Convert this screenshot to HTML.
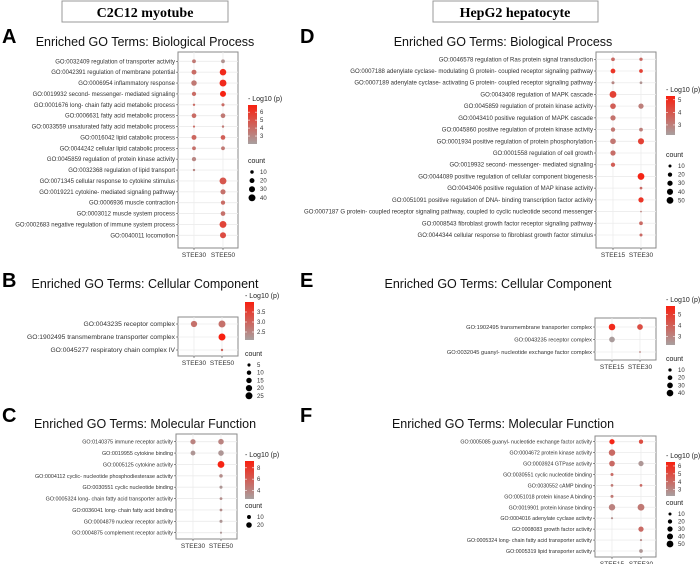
<!DOCTYPE html>
<html><head><meta charset="utf-8">
<style>
body{margin:0;background:#fff;}
svg{display:block;font-family:"Liberation Sans",Arial,sans-serif;}
</style></head>
<body>
<svg id="fig" width="700" height="564" viewBox="0 0 700 564" xmlns="http://www.w3.org/2000/svg">
<defs>
<linearGradient id="cbar" x1="0" y1="1" x2="0" y2="0">
<stop offset="0" stop-color="#a8a0a0"/><stop offset="1" stop-color="#f82010"/>
</linearGradient>
</defs>
<g>
<rect x="62" y="1" width="166" height="21" fill="#fff" stroke="#999" stroke-width="1"/>
<text x="145" y="17" text-anchor="middle" font-family="Liberation Serif,serif" font-weight="bold" font-size="14">C2C12 myotube</text>
</g>
<g>
<rect x="433" y="1" width="165" height="21" fill="#fff" stroke="#999" stroke-width="1"/>
<text x="515" y="17" text-anchor="middle" font-family="Liberation Serif,serif" font-weight="bold" font-size="14">HepG2 hepatocyte</text>
</g>
</svg>
<script>
// Panel A data
const aTerms=["GO:0032409 regulation of transporter activity","GO:0042391 regulation of membrane potential","GO:0006954 inflammatory response","GO:0019932 second- messenger- mediated signaling","GO:0001676 long- chain fatty acid metabolic process","GO:0006631 fatty acid metabolic process","GO:0033559 unsaturated fatty acid metabolic process","GO:0016042 lipid catabolic process","GO:0044242 cellular lipid catabolic process","GO:0045859 regulation of protein kinase activity","GO:0032368 regulation of lipid transport","GO:0071345 cellular response to cytokine stimulus","GO:0019221 cytokine- mediated signaling pathway","GO:0006936 muscle contraction","GO:0003012 muscle system process","GO:0002683 negative regulation of immune system process","GO:0040011 locomotion"];
const aGroups=["STEE30","STEE50"];
const aP1=[3.5,4,3.5,4,4,4,4,4.2,3.8,3,3,null,null,null,null,null,null];
const aC1=[12,20,25,15,5,18,4,20,12,15,5,null,null,null,null,null,null];
const aP2=[2.5,6.5,6.5,6.8,4,3.5,3.5,4.5,3.5,null,null,4.8,3.8,4,3.8,5.5,5.2];
const aC2=[12,35,40,30,8,18,5,18,12,null,null,40,22,15,18,40,30];
const aColorTicks=[3,4,5,6];const aCountTicks=[10,20,30,40];
// Panel B data
const bTerms=["GO:0043235 receptor complex","GO:1902495 transmembrane transporter complex","GO:0045277 respiratory chain complex IV"];
const bGroups=["STEE30","STEE50"];
const bP1=[2.8,null,null];const bC1=[20,null,null];
const bP2=[2.8,4,3];const bC2=[25,25,3];
const bColorTicks=[2.5,3.0,3.5];const bCountTicks=[5,10,15,20,25];
// Panel C data
const cTerms=["GO:0140375 immune receptor activity","GO:0019955 cytokine binding","GO:0005125 cytokine activity","GO:0004112 cyclic- nucleotide phosphodiesterase activity","GO:0030551 cyclic nucleotide binding","GO:0005324 long- chain fatty acid transporter activity","GO:0036041 long- chain fatty acid binding","GO:0004879 nuclear receptor activity","GO:0004875 complement receptor activity"];
const cGroups=["STEE30","STEE50"];
const cP1=[4,3,null,null,null,null,null,null,null];const cC1=[18,15,null,null,null,null,null,null,null];
const cP2=[4,3,9,3.5,3,3.5,3.5,3,3];const cC2=[20,20,30,8,6,5,5,6,3];
const cColorTicks=[4,6,8];const cCountTicks=[10,20];
// Panel D data
const dTerms=["GO:0046578 regulation of Ras protein signal transduction","GO:0007188 adenylate cyclase- modulating G protein- coupled receptor signaling pathway","GO:0007189 adenylate cyclase- activating G protein- coupled receptor signaling pathway","GO:0043408 regulation of MAPK cascade","GO:0045859 regulation of protein kinase activity","GO:0043410 positive regulation of MAPK cascade","GO:0045860 positive regulation of protein kinase activity","GO:0001934 positive regulation of protein phosphorylation","GO:0001558 regulation of cell growth","GO:0019932 second- messenger- mediated signaling","GO:0044089 positive regulation of cellular component biogenesis","GO:0043406 positive regulation of MAP kinase activity","GO:0051091 positive regulation of DNA- binding transcription factor activity","GO:0007187 G protein- coupled receptor signaling pathway, coupled to cyclic nucleotide second messenger","GO:0008543 fibroblast growth factor receptor signaling pathway","GO:0044344 cellular response to fibroblast growth factor stimulus"];
const dGroups=["STEE15","STEE30"];
const dP1=[3.5,4.8,2.8,4.5,3.8,3.3,3.2,3.2,3.4,3.8,null,null,null,null,null,null];
const dC1=[15,25,10,50,35,30,20,35,30,20,null,null,null,null,null,null];
const dP2=[3.5,4.5,2.5,null,3,null,3,4.5,null,null,5.2,3.5,4.8,3,3.5,3.5];
const dC2=[12,15,8,null,30,null,15,40,null,null,50,8,30,3,15,10];
const dColorTicks=[3,4,5];const dCountTicks=[10,20,30,40,50];
// Panel E data
const eTerms=["GO:1902495 transmembrane transporter complex","GO:0043235 receptor complex","GO:0032045 guanyl- nucleotide exchange factor complex"];
const eGroups=["STEE15","STEE30"];
const eP1=[5.5,2.3,null];const eC1=[40,30,null];
const eP2=[4.5,null,3];const eC2=[30,null,3];
const eColorTicks=[3,4,5];const eCountTicks=[10,20,30,40];
// Panel F data
const fTerms=["GO:0005085 guanyl- nucleotide exchange factor activity","GO:0004672 protein kinase activity","GO:0003924 GTPase activity","GO:0030551 cyclic nucleotide binding","GO:0030552 cAMP binding","GO:0051018 protein kinase A binding","GO:0019901 protein kinase binding","GO:0004016 adenylate cyclase activity","GO:0008083 growth factor activity","GO:0005324 long- chain fatty acid transporter activity","GO:0005319 lipid transporter activity"];
const fGroups=["STEE15","STEE30"];
const fP1=[6.3,4,4,4,3.5,3.5,3.2,2.8,null,null,null];const fC1=[30,45,35,10,8,10,45,5,null,null,null];
const fP2=[5,null,2.5,null,4,null,3.5,null,4,3,2.5];const fC2=[20,null,30,null,8,null,50,null,30,5,15];
const fColorTicks=[3,4,5,6];const fCountTicks=[10,20,30,40,50];

const NS="http://www.w3.org/2000/svg";
const svg=document.getElementById('fig');
function mk(tag,attrs,parent,txt){const e=document.createElementNS(NS,tag);for(const k in attrs)e.setAttribute(k,attrs[k]);if(txt!=null)e.textContent=txt;(parent||svg).appendChild(e);return e;}
function lerp(a,b,t){return Math.round(a+(b-a)*t);}
function colorOf(v,lo,hi){let t=(v-lo)/(hi-lo);t=Math.max(0,Math.min(1,t));return `rgb(${lerp(168,248,t)},${lerp(160,32,t)},${lerp(160,16,t)})`;}

function panel(cfg){
  const g=mk('g',{});
  
  
  const L=mk('text',{x:cfg.letterX,y:cfg.letterY,'font-size':20,'font-weight':'bold'},g,cfg.id.toUpperCase());
  
  
  const T=mk('text',{x:cfg.titleX,y:cfg.titleY,'font-size':12.5,'text-anchor':'middle',fill:'#111'},g,cfg.title);
  
  
  const n=cfg.terms.length;
  const yAt=i=>cfg.y0+(cfg.y1-cfg.y0)*(n===1?0:i/(n-1));
  const xAt=j=>cfg.cx[j];
  const box=mk('rect',{x:cfg.bx0,y:cfg.by0,width:cfg.bx1-cfg.bx0,height:cfg.by1-cfg.by0,fill:'#fff',stroke:'#8a8a8a','stroke-width':1},g);
  
  
  for(let i=0;i<n;i++){mk('line',{x1:cfg.bx0,x2:cfg.bx1,y1:yAt(i),y2:yAt(i),stroke:'#ececec','stroke-width':0.8},g);}
  for(let j=0;j<2;j++){mk('line',{x1:xAt(j),x2:xAt(j),y1:cfg.by0,y2:cfg.by1,stroke:'#ececec','stroke-width':0.8},g);}
  for(let i=0;i<n;i++){
    mk('line',{x1:cfg.bx0-2,x2:cfg.bx0,y1:yAt(i),y2:yAt(i),stroke:'#444','stroke-width':0.6},g);
    const t=mk('text',{x:cfg.bx0-3,y:yAt(i)+2,'font-size':cfg.fs,'text-anchor':'end',fill:'#333'},g,cfg.terms[i]);
    
    
  }
  for(let j=0;j<2;j++){
    mk('line',{x1:xAt(j),x2:xAt(j),y1:cfg.by1,y2:cfg.by1+2,stroke:'#444','stroke-width':0.6},g);
    const t=mk('text',{x:xAt(j),y:cfg.by1+9,'font-size':6.5,'text-anchor':'middle',fill:'#333'},g,cfg.groups[j]);
    
    
  }
  const series=[[cfg.p1,cfg.c1],[cfg.p2,cfg.c2]];
  for(let j=0;j<2;j++){
    for(let i=0;i<n;i++){
      const p=series[j][0][i],c=series[j][1][i];
      if(p==null||c==null)continue;
      const d=mk('circle',{cx:xAt(j),cy:yAt(i),r:cfg.k*Math.sqrt(c),fill:colorOf(p,cfg.lo,cfg.hi)},g);
      
      
    }
  }
  const lg=mk('g',{},g);
  
  
  mk('text',{x:cfg.lx,y:cfg.ly,'font-size':7,fill:'#222'},lg,'- Log10 (p)');
  const cb=mk('rect',{x:cfg.lx,y:cfg.ly+4,width:9,height:cfg.cbh,fill:'url(#cbar)'},lg);
  
  
  for(const v of cfg.colorTicks){
    const yy=cfg.ly+4+cfg.cbh*(1-(v-cfg.lo)/(cfg.hi-cfg.lo));
    mk('text',{x:cfg.lx+12,y:yy+2,'font-size':6,fill:'#333'},lg,String(v.toFixed(cfg.dec||0)));
    mk('line',{x1:cfg.lx,x2:cfg.lx+2,y1:yy,y2:yy,stroke:'#fff','stroke-width':0.6},lg);
    mk('line',{x1:cfg.lx+7,x2:cfg.lx+9,y1:yy,y2:yy,stroke:'#fff','stroke-width':0.6},lg);
  }
  mk('text',{x:cfg.lx,y:cfg.cy,'font-size':7,fill:'#222'},lg,'count');
  cfg.countTicks.forEach((v,i)=>{
    const yy=cfg.cy+9+i*cfg.cstep;
    const e=mk('circle',{cx:cfg.lx+4,cy:yy,r:cfg.k*Math.sqrt(v),fill:'#000'},lg);
    
    
    mk('text',{x:cfg.lx+12,y:yy+2,'font-size':6,fill:'#333'},lg,String(v));
  });
}

panel({id:'a',title:'Enriched GO Terms: Biological Process',terms:aTerms,groups:aGroups,p1:aP1,c1:aC1,p2:aP2,c2:aC2,
 colorTicks:aColorTicks,countTicks:aCountTicks,lo:2,hi:6.9,k:0.55,fs:6,
 letterX:2,letterY:43,titleX:145,titleY:46,bx0:178,bx1:238,by0:52,by1:248,y0:61.3,y1:235.3,cx:[194,223],
 lx:248,ly:101,cbh:39,cy:163,cstep:8.6});
panel({id:'b',title:'Enriched GO Terms: Cellular Component',terms:bTerms,groups:bGroups,p1:bP1,c1:bC1,p2:bP2,c2:bC2,
 colorTicks:bColorTicks,countTicks:bCountTicks,lo:2.1,hi:4,k:0.7,fs:6.7,dec:1,
 letterX:2,letterY:287,titleX:145,titleY:288,bx0:178,bx1:238,by0:317,by1:356,y0:324,y1:350,cx:[194,222],
 lx:245,ly:298,cbh:38,cy:356,cstep:7.7});
panel({id:'c',title:'Enriched GO Terms: Molecular Function',terms:cTerms,groups:cGroups,p1:cP1,c1:cC1,p2:cP2,c2:cC2,
 colorTicks:cColorTicks,countTicks:cCountTicks,lo:2.5,hi:9.2,k:0.62,fs:5.4,
 letterX:2,letterY:422,titleX:145,titleY:428,bx0:176,bx1:237,by0:434,by1:539,y0:441.7,y1:532.7,cx:[193,221],
 lx:245,ly:457,cbh:38,cy:508,cstep:8});
panel({id:'d',title:'Enriched GO Terms: Biological Process',terms:dTerms,groups:dGroups,p1:dP1,c1:dC1,p2:dP2,c2:dC2,
 colorTicks:dColorTicks,countTicks:dCountTicks,lo:2.2,hi:5.3,k:0.48,fs:6.05,
 letterX:300,letterY:43,titleX:503,titleY:46,bx0:596,bx1:656,by0:52,by1:248,y0:59.3,y1:235,cx:[613,641],
 lx:666,ly:92,cbh:39,cy:157,cstep:8.6});
panel({id:'e',title:'Enriched GO Terms: Cellular Component',terms:eTerms,groups:eGroups,p1:eP1,c1:eC1,p2:eP2,c2:eC2,
 colorTicks:eColorTicks,countTicks:eCountTicks,lo:2.2,hi:5.8,k:0.52,fs:5.7,
 letterX:300,letterY:287,titleX:498,titleY:288,bx0:595,bx1:656,by0:318,by1:360,y0:327,y1:352,cx:[612,640],
 lx:666,ly:302,cbh:39,cy:361,cstep:7.7});
panel({id:'f',title:'Enriched GO Terms: Molecular Function',terms:fTerms,groups:fGroups,p1:fP1,c1:fC1,p2:fP2,c2:fC2,
 colorTicks:fColorTicks,countTicks:fCountTicks,lo:2.2,hi:6.5,k:0.48,fs:5.3,
 letterX:300,letterY:422,titleX:503,titleY:428,bx0:595,bx1:656,by0:436,by1:557,y0:441.7,y1:551,cx:[612,641],
 lx:666,ly:458,cbh:34,cy:505,cstep:7.5});
</script>
</body></html>
